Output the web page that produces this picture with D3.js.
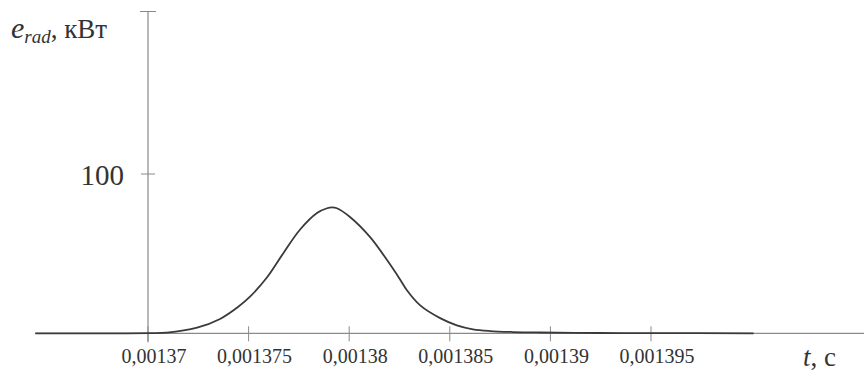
<!DOCTYPE html>
<html lang="ru">
<head>
<meta charset="UTF-8">
<title>e_rad(t)</title>
<script src="https://cdn.jsdelivr.net/npm/d3@7"></script>
<style>
  body { margin: 0; background: #fff; }
  svg text { font-family: "Liberation Serif", serif; }
</style>
</head>
<body>
<script>
// data (t in seconds, e_rad in kW)
var tValues = [0.0013644, 0.0013686, 0.0013701, 0.00137094, 0.00137244, 0.00137358, 0.00137447,
               0.00137507, 0.00137591, 0.00137671, 0.00137755, 0.0013784, 0.0013789, 0.00137915,
               0.00137939, 0.00138004, 0.00138103, 0.00138188, 0.00138252, 0.00138287, 0.00138353,
               0.00138452, 0.00138535, 0.00138615, 0.00138700, 0.00138814, 0.00138948, 0.00139249,
               0.00139497, 0.0014001];
var eValues = [0, 0, 0.1, 0.4, 3.5, 9, 16.5,
               23, 35, 50, 65, 75.5, 78.5, 79,
               78.5, 73, 60.5, 46, 34, 27, 17.5,
               9.5, 5, 2.5, 1.4, 0.8, 0.5, 0.2,
               0.1, 0];
var xTicks = [0.00137, 0.001375, 0.00138, 0.001385, 0.00139, 0.001395];
var xTickLabels = ["0,00137", "0,001375", "0,00138", "0,001385", "0,00139", "0,001395"];
var yTicks = [100];
var yTickLabels = ["100"];
var yMax = 202;

var width = 864, height = 373;

var svg = d3.select("body").append("svg")
    .attr("width", width)
    .attr("height", height);

// scales
var x = d3.scaleLinear().domain([0.00137, 0.001395]).range([148, 651]);
var y = d3.scaleLinear().domain([0, 100]).range([333.3, 174]);

var axisColor = "#8a8a8a";
var textColor = "#333";

// x axis line
svg.append("line")
    .attr("x1", 35).attr("x2", width)
    .attr("y1", y(0)).attr("y2", y(0))
    .attr("stroke", axisColor).attr("stroke-width", 1.2);

// x ticks (cross the axis)
var xt = svg.selectAll(".xtick")
    .data(xTicks)
    .enter().append("g")
    .attr("transform", function (d) { return "translate(" + x(d) + ",0)"; });
xt.append("line")
    .attr("y1", y(0) - 7).attr("y2", y(0) + 8)
    .attr("stroke", axisColor).attr("stroke-width", 1);
xt.append("text")
    .attr("x", 6)
    .attr("y", 363)
    .attr("text-anchor", "middle")
    .attr("font-size", "20px")
    .attr("fill", textColor)
    .text(function (d, i) { return xTickLabels[i]; });

// y axis line
svg.append("line")
    .attr("x1", x(0.00137)).attr("x2", x(0.00137))
    .attr("y1", y(yMax)).attr("y2", y(0) + 9)
    .attr("stroke", axisColor).attr("stroke-width", 1.2);

// top cap
svg.append("line")
    .attr("x1", x(0.00137) - 8).attr("x2", x(0.00137) + 8)
    .attr("y1", y(yMax)).attr("y2", y(yMax))
    .attr("stroke", axisColor).attr("stroke-width", 1);

var yt = svg.selectAll(".ytick")
    .data(yTicks)
    .enter().append("g")
    .attr("transform", function (d) { return "translate(0," + y(d) + ")"; });
yt.append("line")
    .attr("x1", x(0.00137) - 7).attr("x2", x(0.00137) + 7)
    .attr("stroke", axisColor).attr("stroke-width", 1);
yt.append("text")
    .attr("x", 124)
    .attr("y", 11)
    .attr("text-anchor", "end")
    .attr("font-size", "29px")
    .attr("fill", textColor)
    .text(function (d, i) { return yTickLabels[i]; });

// curve
var points = tValues.map(function (t, i) { return [t, eValues[i]]; });
var line = d3.line()
    .x(function (d) { return x(d[0]); })
    .y(function (d) { return y(d[1]); })
    .curve(d3.curveCatmullRom.alpha(0.5));

svg.append("path")
    .datum(points)
    .attr("d", line)
    .attr("fill", "none")
    .attr("stroke", "#3a3a3a")
    .attr("stroke-width", 1.8);

// axis titles
var yTitle = svg.append("text")
    .attr("x", 11)
    .attr("y", 38)
    .attr("fill", textColor);
yTitle.append("tspan").attr("font-style", "italic").attr("font-size", "30px").text("e");
yTitle.append("tspan").attr("font-style", "italic").attr("font-size", "19px").attr("dy", 5).text("rad");
yTitle.append("tspan").attr("font-size", "27px").attr("dy", -5).text(", кВт");

var xTitle = svg.append("text")
    .attr("x", 803)
    .attr("y", 366)
    .attr("fill", textColor);
xTitle.append("tspan").attr("font-style", "italic").attr("font-size", "27px").text("t");
xTitle.append("tspan").attr("font-size", "27px").text(", с");
</script>
</body>
</html>
